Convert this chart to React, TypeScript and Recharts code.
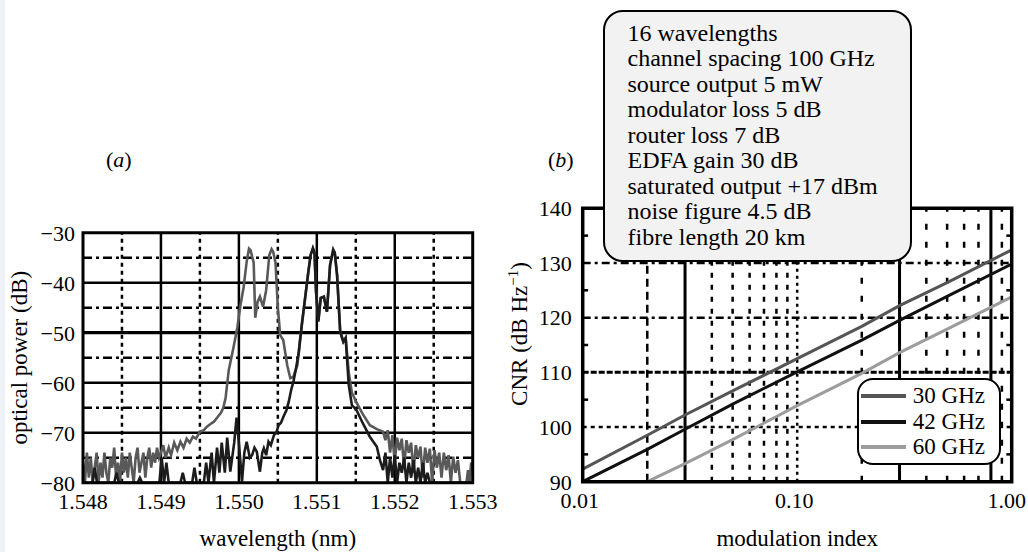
import React from 'react';
import { LineChart, Line, XAxis, YAxis, ReferenceLine, ReferenceArea, Legend, Label } from 'recharts';

const FONT = '"Liberation Serif", "Times New Roman", serif';

// ---------- Panel (a): optical spectrum ----------
const WL_TICKS = [1.548, 1.549, 1.55, 1.551, 1.552, 1.553];
const WL_MAJOR_GRID = [1.549, 1.55, 1.551, 1.552];
const WL_MINOR_GRID = [1.5485, 1.5495, 1.5505, 1.5515, 1.5525];
const DB_TICKS = [-80, -70, -60, -50, -40, -30];
const DB_MAJOR_GRID = [-70, -60, -50, -40];
const DB_MINOR_GRID = [-75, -65, -55, -45, -35];

const GRAY_TRACE: [number, number][] = [
  [1.548, -76], [1.548025, -80], [1.54805, -74], [1.548075, -79], [1.5481, -75], [1.548125, -80],
  [1.54815, -77], [1.548175, -74], [1.5482, -80], [1.548225, -76], [1.54825, -79], [1.548275, -74],
  [1.5483, -78], [1.548325, -80], [1.54835, -75], [1.548375, -77], [1.5484, -73], [1.548425, -79],
  [1.54845, -76], [1.548475, -80], [1.5485, -74], [1.548525, -78], [1.54855, -75], [1.548575, -79],
  [1.5486, -74], [1.548625, -77], [1.54865, -80], [1.548675, -75], [1.5487, -73], [1.548725, -78],
  [1.54875, -76], [1.548775, -74], [1.5488, -79], [1.548825, -75], [1.54885, -73], [1.548875, -77],
  [1.5489, -74], [1.548925, -76], [1.54895, -73], [1.548975, -75], [1.549, -74],
  [1.54903, -72.5], [1.54906, -75], [1.5491, -73], [1.54913, -74.5], [1.54917, -72], [1.54921, -73.5],
  [1.54925, -71.8], [1.54929, -73], [1.54933, -71.2], [1.54937, -72], [1.54941, -70.8], [1.54945, -71.2],
  [1.5495, -69.8], [1.54955, -69.5], [1.54959, -68.8], [1.54964, -68.2], [1.54968, -67.8], [1.54973, -66.8],
  [1.54977, -66], [1.5498, -65], [1.54983, -63], [1.54987, -57.5], [1.54993, -53], [1.54998, -49],
  [1.55002, -44.5], [1.55006, -41], [1.5501, -35.8], [1.55013, -33.2], [1.55015, -33.5], [1.55019, -36],
  [1.55021, -47], [1.55024, -43.8], [1.55027, -42.8], [1.55031, -44.8], [1.55035, -41.5], [1.55039, -34.5],
  [1.55042, -33.3], [1.55044, -33.8], [1.55047, -36], [1.5505, -45], [1.55053, -50.5], [1.55057, -51.5],
  [1.55062, -56.5], [1.55066, -59.1], [1.5507, -58.8], [1.55075, -56.5], [1.55078, -52],
  [1.55082, -47], [1.55085, -43], [1.55089, -38], [1.55092, -34.5], [1.55095, -33.1], [1.55097, -34],
  [1.55099, -41.8], [1.55102, -47.5], [1.55105, -43], [1.55109, -42.8], [1.55113, -45.8], [1.55117, -36.5],
  [1.55121, -33.3], [1.55123, -34], [1.55126, -38.5], [1.5513, -49.8], [1.55134, -51.8], [1.55137, -51],
  [1.55141, -58], [1.55145, -62], [1.55151, -64], [1.55159, -66.3], [1.55168, -68.5], [1.55177, -69.3],
  [1.55185, -69.8], [1.55188, -71.5], [1.55191, -69.5], [1.55194, -74], [1.55197, -70.5], [1.552, -76],
  [1.55203, -71], [1.55206, -73.5], [1.55209, -71.2], [1.55212, -77], [1.55215, -71.5], [1.55218, -74],
  [1.55221, -72], [1.55224, -78], [1.55227, -72.5], [1.5523, -75], [1.55233, -72.8], [1.55236, -79],
  [1.55239, -73], [1.55242, -76], [1.55245, -73.2], [1.55248, -80], [1.55251, -73.5], [1.55254, -77],
  [1.55257, -74], [1.5526, -79], [1.55263, -74], [1.55266, -77.5], [1.55269, -74.5], [1.55272, -80],
  [1.55275, -74.8], [1.55278, -78], [1.55281, -75.5], [1.55284, -80], [1.55288, -80], [1.55292, -80],
  [1.55294, -77.5], [1.55296, -80], [1.55298, -76], [1.553, -77],
];

const BLACK_TRACE: [number, number][] = [
  [1.548, -80], [1.54812, -80], [1.54815, -77], [1.54818, -80], [1.5484, -80], [1.54843, -78],
  [1.54846, -80], [1.5487, -80], [1.54873, -79], [1.54876, -80], [1.54898, -80], [1.54901, -75],
  [1.54904, -80], [1.54907, -76], [1.5491, -80], [1.54925, -80], [1.54928, -78], [1.54931, -80],
  [1.5494, -80], [1.54943, -77], [1.54946, -80], [1.54955, -80], [1.54958, -76], [1.54961, -80],
  [1.54965, -74], [1.54968, -80], [1.54972, -73], [1.54975, -78], [1.54978, -72], [1.54982, -78],
  [1.54985, -71], [1.54989, -77.8], [1.54994, -72], [1.54997, -67], [1.55, -72], [1.55004, -79.8],
  [1.55007, -74], [1.5501, -71.8], [1.55014, -75], [1.55017, -74.5], [1.5502, -73], [1.55023, -73.8],
  [1.55027, -77.8], [1.5503, -74], [1.55032, -73.1], [1.55035, -74.5], [1.55038, -71.8], [1.55041, -72.5],
  [1.55045, -70.5], [1.55048, -70], [1.55051, -68.5], [1.55054, -68], [1.55058, -66.5], [1.55061, -65.5],
  [1.55064, -63.8], [1.55067, -61.5], [1.5507, -59.8], [1.55074, -56.5], [1.55077, -53.8], [1.55081, -48],
  [1.55085, -43.1], [1.55089, -38], [1.55092, -34.5], [1.55095, -33.1], [1.55097, -34], [1.55099, -41.8],
  [1.55102, -47.8], [1.55105, -43.1], [1.55109, -42.8], [1.55113, -45.8], [1.55117, -36.5], [1.55121, -33.5],
  [1.55123, -34], [1.55126, -38.5], [1.5513, -49.8], [1.55134, -51.8], [1.55137, -51.1], [1.55141, -60.5],
  [1.55145, -64.5], [1.55151, -65.5], [1.55159, -68.1], [1.55168, -70.8], [1.55177, -72.8], [1.55181, -75.5],
  [1.55185, -77.5], [1.55188, -74], [1.55191, -80], [1.55194, -75], [1.55197, -79], [1.552, -74.5],
  [1.55203, -80], [1.55206, -76], [1.55209, -78], [1.55212, -75], [1.55215, -80], [1.55218, -76],
  [1.55221, -79], [1.55224, -75.5], [1.55227, -80], [1.5523, -77], [1.55233, -80], [1.55236, -76],
  [1.55239, -80], [1.55242, -78], [1.55245, -80], [1.553, -80],
];

// ---------- Panel (b): CNR vs modulation index ----------
const MOD_INDEX = [0.01, 0.02, 0.03, 0.05, 0.1, 0.2, 0.3, 0.5, 1.0];
const CNR_30 = [92.3, 98.5, 102.2, 106.6, 112.5, 118.4, 122.2, 126.4, 132.4];
const CNR_42 = [90, 95.9, 99.6, 104.2, 110.1, 115.9, 119.5, 123.9, 129.8];
const CNR_60 = [null, 90, 93.3, 97.7, 103.9, 109.8, 113.6, 117.9, 123.8];
const SERIES_NAMES = ['30 GHz', '42 GHz', '60 GHz'];
const SERIES_COLORS = ['#555555', '#111111', '#9c9c9c'];
const MOD_TICKS = [0.01, 0.1, 1];
const CNR_TICKS = [90, 100, 110, 120, 130, 140];
const CNR_MINOR_TICKS = [95, 105, 115, 125, 135];
const V_SOLID = [0.03, 0.3, 0.8];
const V_DASH_LOW = [0.02];
const V_SHORT = [0.04, 0.05, 0.06, 0.07, 0.08, 0.09];
const V_DOT = [0.1];
const V_DASH_HIGH = [0.2, 0.4, 0.5, 0.6, 0.7, 0.9];
const H_DASHDOT = [120, 130];
const H_DENSE = [110];
const H_DOT = [100];

const INFO_LINES = [
  '16 wavelengths',
  'channel spacing 100 GHz',
  'source output 5 mW',
  'modulator loss 5 dB',
  'router loss 7 dB',
  'EDFA gain 30 dB',
  'saturated output +17 dBm',
  'noise figure 4.5 dB',
  'fibre length 20 km',
];

const grayData = GRAY_TRACE.map(([wl, db]) => ({ wl, db }));
const blackData = BLACK_TRACE.map(([wl, db]) => ({ wl, db }));
const cnrData = MOD_INDEX.map((m, i) => ({ m, g30: CNR_30[i], g42: CNR_42[i], g60: CNR_60[i] }));

const tickStyle = { fill: '#000', fontSize: 22, fontFamily: FONT };
const minus = (v: number) => (v < 0 ? '\u2212' + Math.abs(v) : String(v));

const vTitle = (x: number, shift: number, content: React.ReactNode) => (props: any) => {
  const vb = props.viewBox || {};
  const cy = vb.y + vb.height / 2 + shift;
  return (
    <text x={x} y={cy} transform={`rotate(-90 ${x} ${cy})`} textAnchor="middle" fontFamily={FONT} fontSize={23} fill="#000">
      {content}
    </text>
  );
};

const hTitle = (baseline: number, text: string) => (props: any) => {
  const vb = props.viewBox || {};
  const cx = vb.x + vb.width / 2;
  return (
    <text x={cx} y={baseline} textAnchor="middle" fontFamily={FONT} fontSize={23} fill="#000">
      {text}
    </text>
  );
};

const WlTick = (props: any) => {
  const { x, y, payload } = props;
  const v = payload.value as number;
  return (
    <text x={x} y={y} dy={18} textAnchor="middle" fontFamily={FONT} fontSize={22} fill="#000">
      {v.toFixed(3)}
    </text>
  );
};

const ModTick = (props: any) => {
  const { x, y, payload } = props;
  const v = payload.value as number;
  const dx = v >= 1 ? -5 : -3;
  return (
    <text x={x + dx} y={y} dy={18} textAnchor="middle" fontFamily={FONT} fontSize={22} fill="#000">
      {v.toFixed(2)}
    </text>
  );
};

const LegendBox = (props: any) => {
  const payload = props.payload || [];
  return (
    <div
      style={{
        boxSizing: 'border-box',
        width: 144,
        height: 87,
        border: '2.5px solid #000',
        borderRadius: 16,
        background: '#fff',
        paddingTop: 3,
      }}
    >
      {payload.map((p: any) => (
        <div key={p.value} style={{ display: 'flex', alignItems: 'center', height: 25.6 }}>
          <span style={{ display: 'inline-block', width: 45, height: 4, marginLeft: 2.5, background: p.color }} />
          <span style={{ marginLeft: 6.6, fontFamily: FONT, fontSize: 23, lineHeight: '25.6px', color: '#000', whiteSpace: 'nowrap' }}>
            {p.value}
          </span>
        </div>
      ))}
    </div>
  );
};

export default function App() {
  return (
    <div style={{ position: 'absolute', left: 0, top: 0, width: 1028, height: 552, background: '#fff', overflow: 'hidden', fontFamily: FONT }}>
      <div style={{ position: 'absolute', left: 0, top: 0, width: 5, height: 552, background: '#eef1f8' }} />

      {/* Panel (a) */}
      <div style={{ position: 'absolute', left: 0, top: 0 }}>
        <LineChart width={500} height={552} margin={{ top: 232.7, right: 27.3, bottom: 9.3, left: 0 }}>
          <XAxis
            type="number"
            dataKey="wl"
            domain={[1.548, 1.553]}
            ticks={WL_TICKS}
            allowDataOverflow
            tick={<WlTick />}
            tickLine={false}
            axisLine={false}
            height={60}
          >
            <Label content={hTitle(546, 'wavelength (nm)')} />
          </XAxis>
          <YAxis
            type="number"
            dataKey="db"
            domain={[-80, -30]}
            ticks={DB_TICKS}
            allowDataOverflow
            tickFormatter={minus}
            tick={tickStyle}
            tickLine={false}
            axisLine={false}
            width={83}
          >
            <Label content={vTitle(27, 0, 'optical power (dB)')} />
          </YAxis>
          {WL_MINOR_GRID.map((v) => (
            <ReferenceLine key={'wm' + v} x={v} stroke="#000" strokeWidth={2.5} strokeDasharray="4 4" />
          ))}
          {DB_MINOR_GRID.map((v) => (
            <ReferenceLine key={'dm' + v} y={v} stroke="#000" strokeWidth={2.5} strokeDasharray="9 4 3 4" />
          ))}
          {WL_MAJOR_GRID.map((v) => (
            <ReferenceLine key={'wM' + v} x={v} stroke="#000" strokeWidth={2.5} />
          ))}
          {DB_MAJOR_GRID.map((v) => (
            <ReferenceLine key={'dM' + v} y={v} stroke="#000" strokeWidth={v === -50 ? 3.2 : 2.5} />
          ))}
          <Line data={grayData} dataKey="db" type="linear" stroke="#595959" strokeWidth={2.6} dot={false} isAnimationActive={false} />
          <Line data={blackData} dataKey="db" type="linear" stroke="#1c1c1c" strokeWidth={2.6} dot={false} isAnimationActive={false} />
          <ReferenceArea x1={1.548} x2={1.553} y1={-80} y2={-30} fill="none" stroke="#000" strokeWidth={3} zIndex={900} />
        </LineChart>
      </div>

      {/* Panel (b) */}
      <div style={{ position: 'absolute', left: 500, top: 0 }}>
        <LineChart width={528} height={552} data={cnrData} margin={{ top: 208.3, right: 16.3, bottom: 10.3, left: 0 }}>
          <XAxis
            type="number"
            dataKey="m"
            scale="log"
            domain={[0.01, 1]}
            ticks={MOD_TICKS}
            allowDataOverflow
            tick={<ModTick />}
            tickLine={false}
            axisLine={false}
            height={60}
          >
            <Label content={hTitle(546, 'modulation index')} />
          </XAxis>
          <YAxis
            type="number"
            domain={[90, 140]}
            ticks={CNR_TICKS}
            allowDataOverflow
            tick={tickStyle}
            tickLine={false}
            tickMargin={5}
            axisLine={false}
            width={82.7}
          >
            <Label
              content={vTitle(27, -11, (
                <>
                  CNR (dB Hz
                  <tspan dy={-9} fontSize={15}>{'\u2212'}1</tspan>
                  <tspan dy={9}>)</tspan>
                </>
              ))}
            />
          </YAxis>
          {V_DASH_LOW.map((v) => (
            <ReferenceLine key={'vl' + v} x={v} stroke="#000" strokeWidth={2.5} strokeDasharray="8 5" />
          ))}
          {V_SHORT.map((v) => (
            <ReferenceLine key={'vs' + v} x={v} stroke="#000" strokeWidth={2.5} strokeDasharray="5 7" />
          ))}
          {V_DOT.map((v) => (
            <ReferenceLine key={'vd' + v} x={v} stroke="#000" strokeWidth={2.5} strokeDasharray="3 4" />
          ))}
          {V_DASH_HIGH.map((v) => (
            <ReferenceLine key={'vh' + v} x={v} stroke="#000" strokeWidth={2.5} strokeDasharray="6 12" />
          ))}
          {H_DASHDOT.map((v) => (
            <ReferenceLine key={'hdd' + v} y={v} stroke="#000" strokeWidth={2.5} strokeDasharray="8 4 3 4" />
          ))}
          {H_DENSE.map((v) => (
            <ReferenceLine key={'hde' + v} y={v} stroke="#000" strokeWidth={3} strokeDasharray="6 2" />
          ))}
          {H_DOT.map((v) => (
            <ReferenceLine key={'hdo' + v} y={v} stroke="#000" strokeWidth={2.5} strokeDasharray="4 4" />
          ))}
          {V_SOLID.map((v) => (
            <ReferenceLine key={'vS' + v} x={v} stroke="#000" strokeWidth={3} />
          ))}
          {CNR_MINOR_TICKS.map((v) => (
            <ReferenceLine key={'mtl' + v} segment={[{ x: 0.01, y: v }, { x: 0.0106, y: v }]} stroke="#000" strokeWidth={2.5} />
          ))}
          {CNR_MINOR_TICKS.map((v) => (
            <ReferenceLine key={'mtr' + v} segment={[{ x: 0.944, y: v }, { x: 1, y: v }]} stroke="#000" strokeWidth={2.5} />
          ))}
          <Line dataKey="g30" name={SERIES_NAMES[0]} type="linear" stroke={SERIES_COLORS[0]} strokeWidth={3} dot={false} isAnimationActive={false} />
          <Line dataKey="g42" name={SERIES_NAMES[1]} type="linear" stroke={SERIES_COLORS[1]} strokeWidth={3} dot={false} isAnimationActive={false} />
          <Line dataKey="g60" name={SERIES_NAMES[2]} type="linear" stroke={SERIES_COLORS[2]} strokeWidth={3} dot={false} isAnimationActive={false} />
          <ReferenceArea x1={0.01} x2={1} y1={90} y2={140} fill="none" stroke="#000" strokeWidth={3.5} zIndex={900} />
          <Legend
            layout="vertical"
            align="center"
            verticalAlign="middle"
            content={<LegendBox />}
            wrapperStyle={{ left: 356.7, top: 378.3, width: 144, height: 87 }}
          />
        </LineChart>
      </div>

      {/* Panel labels */}
      <div style={{ position: 'absolute', left: 106, top: 148.6, fontSize: 22, lineHeight: '22px', color: '#000' }}>
        (<i>a</i>)
      </div>
      <div style={{ position: 'absolute', left: 548, top: 148.6, fontSize: 22, lineHeight: '22px', color: '#000' }}>
        (<i>b</i>)
      </div>

      {/* Parameter box */}
      <div
        style={{
          position: 'absolute',
          left: 603,
          top: 10,
          width: 309,
          height: 252,
          boxSizing: 'border-box',
          border: '2.5px solid #000',
          borderRadius: 20,
          background: '#f2f2f2',
          paddingLeft: 22.5,
          paddingTop: 8.7,
        }}
      >
        {INFO_LINES.map((t) => (
          <div key={t} style={{ fontSize: 24, lineHeight: '25.5px', color: '#000', whiteSpace: 'nowrap' }}>
            {t}
          </div>
        ))}
      </div>
    </div>
  );
}
